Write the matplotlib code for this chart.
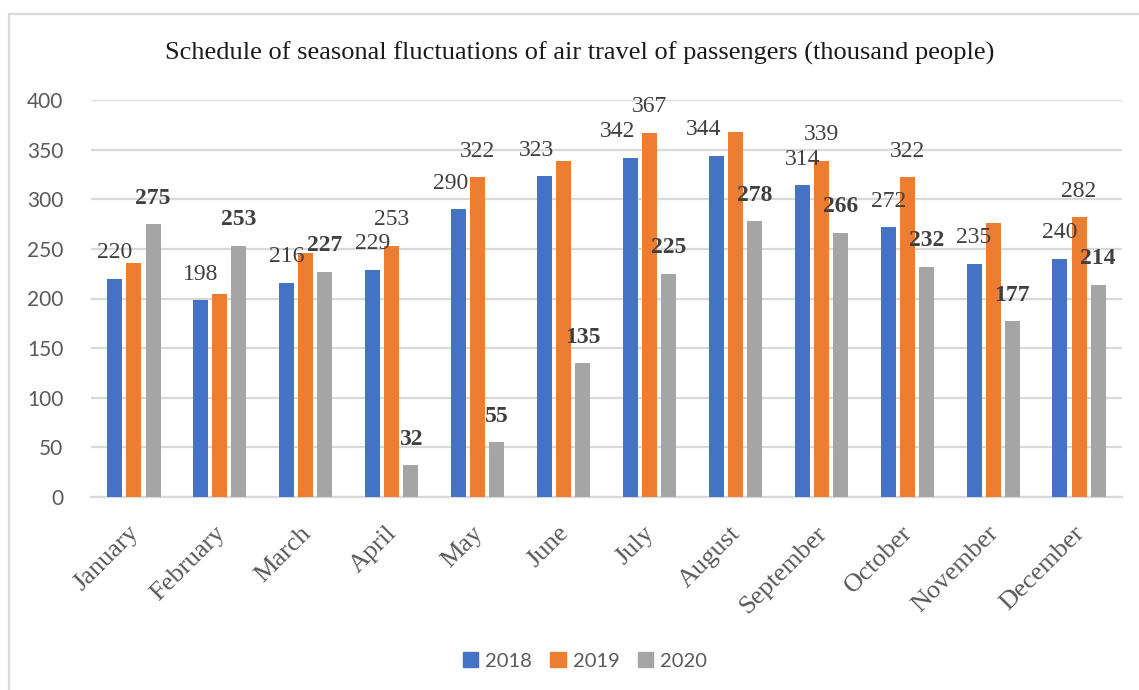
import matplotlib.pyplot as plt
import matplotlib.patches as mpatches
import matplotlib.transforms as mtransforms
import numpy as np

months = ['January', 'February', 'March', 'April', 'May', 'June', 'July',
          'August', 'September', 'October', 'November', 'December']
years = ['2018', '2019', '2020']

pax_2018 = [220, 198, 216, 229, 290, 323, 342, 344, 314, 272, 235, 240]
pax_2019 = [236, 205, 246, 253, 322, 339, 367, 368, 339, 322, 276, 282]
pax_2020 = [275, 253, 227, 32, 55, 135, 225, 278, 266, 232, 177, 214]

# which 2019 values carry a data label in the original
labeled_2019 = ['April', 'May', 'July', 'September', 'October', 'December']

title = 'Schedule of seasonal fluctuations of air travel of passengers (thousand people)'

colors = ['#4472C4', '#ED7D31', '#A5A5A5']
serif = 'Liberation Serif'
sans = 'Lato'
txt_gray = '#595959'
lab_gray = '#404040'
grid_gray = '#D9D9D9'

fig = plt.figure(figsize=(11.39, 6.9), dpi=100)
ax = fig.add_axes([91 / 1139, 1 - 497 / 690, (1122 - 91) / 1139, (497 - 100) / 690])

x = np.arange(len(months))
step = 0.222
width = 0.175
series = [pax_2018, pax_2019, pax_2020]
bars = []
for i, vals in enumerate(series):
    b = ax.bar(x + (i - 1) * step, vals, width, color=colors[i], label=years[i], zorder=3)
    bars.append(b)

ax.set_xlim(-0.5, len(months) - 0.5)
ax.set_ylim(0, 400)
ax.set_yticks(np.arange(0, 401, 50))
ax.yaxis.grid(True, color=grid_gray, linewidth=1.6, zorder=0)
ax.set_axisbelow(True)
for s in ['top', 'right', 'left']:
    ax.spines[s].set_visible(False)
ax.spines['bottom'].set_color(grid_gray)
ax.spines['bottom'].set_linewidth(1.6)
ax.tick_params(axis='both', length=0)
ax.tick_params(axis='y', pad=20)
for t in ax.get_yticklabels():
    t.set_fontfamily(sans)
    t.set_fontsize(15)
    t.set_color(txt_gray)

ax.set_xticks(x)
ax.set_xticklabels(months, rotation=45, ha='right', rotation_mode='anchor',
                   fontfamily=serif, fontsize=19, color=txt_gray)
ax.tick_params(axis='x', pad=18)
shift = mtransforms.ScaledTranslation(-6 / 100, 0, fig.dpi_scale_trans)
for t in ax.get_xticklabels():
    t.set_transform(t.get_transform() + shift)

# data labels (px nudges for a few 2018 labels that sit left of their bar)
nudge_2018 = {4: -8, 5: -8, 6: -13, 7: -13}
px = 72 / 100
for i, rects in enumerate(bars):
    for j, r in enumerate(rects):
        if i == 1 and months[j] not in labeled_2019:
            continue
        dx = nudge_2018.get(j, 0) if i == 0 else 0
        ax.annotate(str(series[i][j]),
                    (r.get_x() + r.get_width() / 2, r.get_height()),
                    xytext=(dx * px, 26 * px), textcoords='offset points',
                    ha='center', va='center', fontfamily=serif, fontsize=17,
                    color=lab_gray, fontweight='bold' if i == 2 else 'normal',
                    zorder=4)

fig.text(580 / 1139, 1 - 53 / 690, title, ha='center', va='center',
         fontfamily=serif, fontsize=19, color='#1a1a1a')

handles = [mpatches.Patch(color=c, label=y) for c, y in zip(colors, years)]
leg = fig.legend(handles=handles, loc='center', bbox_to_anchor=(585 / 1139, 1 - 661 / 690),
                 ncol=3, frameon=False, handlelength=0.75, handleheight=0.75,
                 handletextpad=0.35, columnspacing=0.9,
                 prop={'family': sans, 'size': 14.5})
for t in leg.get_texts():
    t.set_color(txt_gray)

# chart area border (runs off the right and bottom of the crop)
fig.patches.append(mpatches.Rectangle((9 / 1139, -0.1), 1.2, 1.1 - 14 / 690,
                                      transform=fig.transFigure, fill=False,
                                      edgecolor=grid_gray, linewidth=1.6))

fig.savefig('out.png', dpi=100)
